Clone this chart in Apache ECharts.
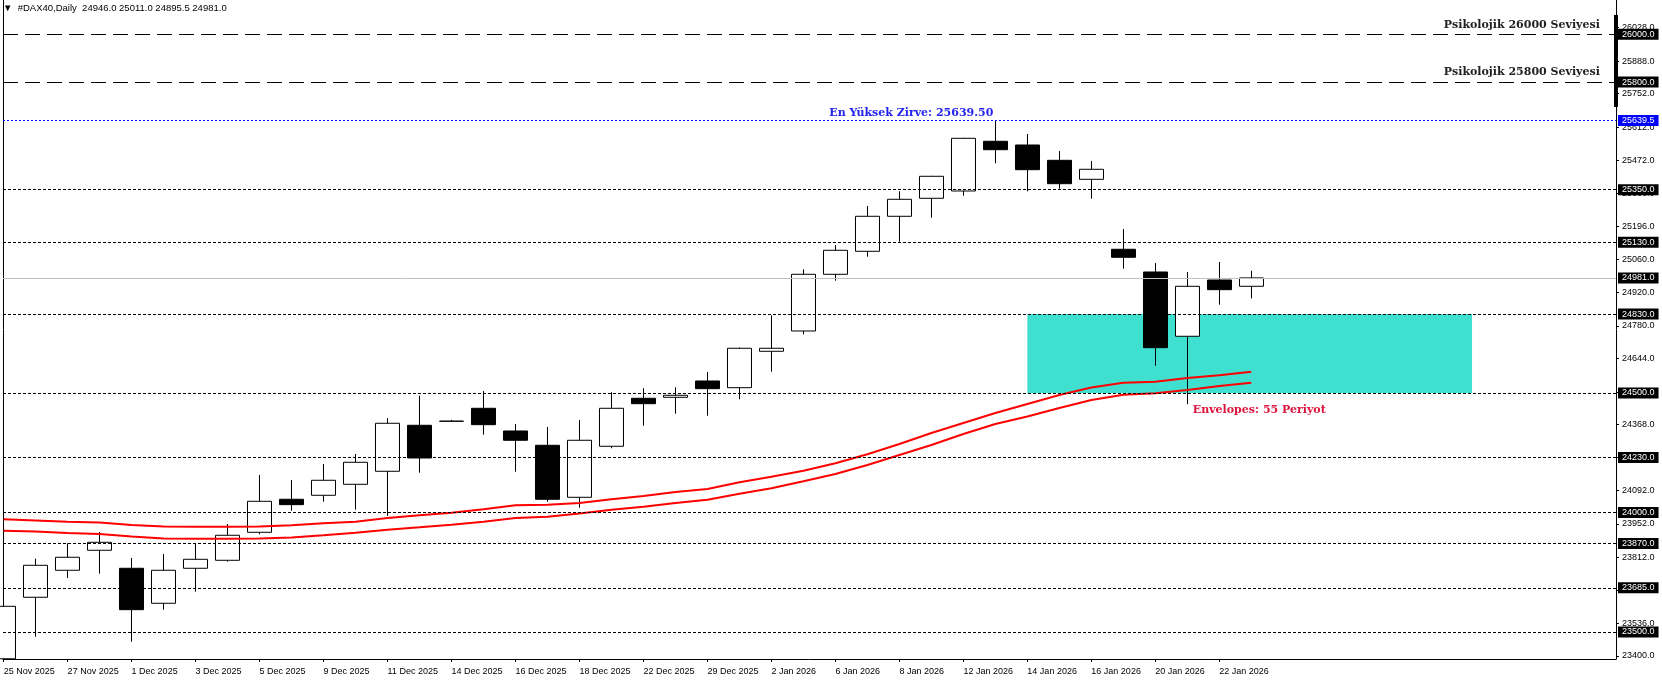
<!DOCTYPE html>
<html>
<head>
<meta charset="utf-8">
<title>#DAX40 Daily</title>
<script src="https://cdn.jsdelivr.net/npm/echarts@6/dist/echarts.min.js"></script>
<style>
    html, body { margin: 0; padding: 0; background: #fff; }
    #chart { width: 1662px; height: 680px; }
</style>
</head>
<body>
<div id="chart"></div>
<script>
// daily bars
var dates = ['25 Nov 2025', '26 Nov 2025', '27 Nov 2025', '28 Nov 2025', '1 Dec 2025', '2 Dec 2025', '3 Dec 2025', '4 Dec 2025',
    '5 Dec 2025', '8 Dec 2025', '9 Dec 2025', '10 Dec 2025', '11 Dec 2025', '12 Dec 2025', '14 Dec 2025', '15 Dec 2025',
    '16 Dec 2025', '17 Dec 2025', '18 Dec 2025', '19 Dec 2025', '22 Dec 2025', '23 Dec 2025', '29 Dec 2025', '30 Dec 2025',
    '2 Jan 2026', '5 Jan 2026', '6 Jan 2026', '7 Jan 2026', '8 Jan 2026', '9 Jan 2026', '12 Jan 2026', '13 Jan 2026',
    '14 Jan 2026', '15 Jan 2026', '16 Jan 2026', '19 Jan 2026', '20 Jan 2026', '21 Jan 2026', '22 Jan 2026', '23 Jan 2026'];

// first bar opens below the visible scale, so its open/low sit at the bottom edge
var open = [23388, 23645.2, 23758.1, 23841.8, 23766.5, 23620.1, 23766.5, 23799.9, 23917.0, 24055.1,
    24071.8, 24117.8, 24172.2, 24364.6, 24381.3, 24435.7, 24340.8, 24280.9, 24063.4, 24276.8,
    24477.5, 24481.7, 24549.9, 24521.9, 24674.1, 24759.0, 24996.2, 25092.4, 25238.8, 25314.1,
    25344.6, 25552.5, 25537.0, 25473.0, 25393.5, 25100.8, 25005.8, 24736.9, 24972.3, 24946.0];
var close = [23607.5, 23779.0, 23812.5, 23875.2, 23593.3, 23758.1, 23804.1, 23904.5, 24046.7, 24032.6,
    24134.6, 24209.8, 24373.0, 24227.8, 24382.0, 24367.1, 24301.9, 24055.1, 24301.9, 24435.7,
    24454.9, 24490.1, 24517.7, 24686.7, 24686.7, 24996.2, 25096.6, 25238.8, 25309.9, 25406.1,
    25565.0, 25517.3, 25433.7, 25375.1, 25435.4, 25067.3, 24689.2, 24946.0, 24931.8, 24981.0];
var low = [23387.5, 23480.4, 23725.9, 23743.9, 23459.5, 23593.3, 23668.6, 23794.1, 23908.7, 24007.4,
    24045.0, 24011.6, 23985.2, 24166.3, 24379.0, 24325.3, 24170.5, 24045.0, 24019.9, 24268.4,
    24362.9, 24413.1, 24404.8, 24473.3, 24588.8, 24745.2, 24969.4, 25069.8, 25132.5, 25232.9,
    25324.9, 25460.5, 25343.3, 25354.2, 25312.4, 25019.6, 24613.9, 24452.4, 24869.0, 24895.5];
var high = [23620.0, 23806.6, 23871.0, 23918.3, 23809.6, 23826.3, 23871.0, 23951.8, 24156.7, 24135.8,
    24202.7, 24244.5, 24395.1, 24488.4, 24386.8, 24508.1, 24370.0, 24357.5, 24386.8, 24502.6,
    24519.4, 24523.6, 24587.5, 24690.0, 24824.7, 25017.1, 25118.7, 25281.9, 25343.3, 25408.0,
    25567.0, 25639.5, 25583.0, 25511.9, 25470.1, 25185.7, 25043.5, 25005.8, 25047.6, 25011.0];

// Envelopes 55
var envUpper = [23971.4, 23966.4, 23961.4, 23958.0, 23947.6, 23941.3, 23940.5, 23940.5, 23941.3, 23946.3,
    23954.7, 23961.4, 23976.9, 23988.1, 23999.0, 24013.3, 24030.0, 24032.5, 24039.6, 24055.1,
    24068.9, 24085.6, 24098.2, 24126.2, 24149.6, 24174.7, 24205.7, 24243.3, 24286.4, 24332.4,
    24374.2, 24416.0, 24453.7, 24491.3, 24522.7, 24542.8, 24547.0, 24562.4, 24573.7, 24588.8];
var envLower = [23923.7, 23920.4, 23914.1, 23909.9, 23899.5, 23891.1, 23890.3, 23890.3, 23891.1, 23895.3,
    23904.5, 23915.4, 23927.9, 23938.0, 23948.9, 23961.4, 23976.9, 23982.3, 23995.7, 24011.6,
    24024.1, 24039.6, 24053.4, 24078.5, 24101.1, 24130.4, 24160.9, 24198.5, 24240.4, 24282.2,
    24328.2, 24370.0, 24401.4, 24437.0, 24470.4, 24492.6, 24498.4, 24512.2, 24529.0, 24542.8];

// price scale
var yTicks = [23400, 23536, 23676, 23812, 23952, 24092, 24232, 24368, 24504, 24644,
    24780, 24920, 25060, 25196, 25336, 25472, 25612, 25752, 25888, 26028];
var yMin = 23387, yMax = 26143.5;
var xMin = -0.02, xMax = 50.4;

// drawn levels
var psychLevels = [26000, 25800];
var psychNotes = ['Psikolojik 26000 Seviyesi', 'Psikolojik 25800 Seviyesi'];
var psychNoteEnd = 50.02;
var dotLevels = [25350, 25130, 24830, 24500, 24230, 24000, 23870, 23685, 23500];
var peak = 25639.5, peakBar = 31, peakNote = 'En Yüksek Zirve: 25639.50';
var bid = 24981;
var zone = [32, 24830, 45.9, 24500];
var envNote = 'Envelopes: 55 Periyot', envNoteAt = [37, 24428.6];

var axisFont = 'Liberation Sans';
var noteFont = 'DejaVu Serif';

var xTicks = dates.map(function (d, i) { return i; }).filter(function (i) { return i % 2 === 0; });
var candles = dates.map(function (d, i) { return [i, open[i], close[i], low[i], high[i]]; });

function priceBox(bg) {
    return {
        show: true, position: 'end', distance: 2,
        formatter: function (p) { return Number(p.value).toFixed(1); },
        backgroundColor: bg, color: '#fff',
        fontFamily: axisFont, fontSize: 9, lineHeight: 10,
        padding: [1, 4, 0, 4]
    };
}

function noteSegment(y, xEnd, text, color, dist) {
    return [
        { coord: [0, y], lineStyle: { color: 'rgba(0,0,0,0)' },
          label: { show: true, position: 'insideEndTop', formatter: text, distance: dist,
              color: color, fontFamily: noteFont, fontWeight: 'bold', fontSize: 11 } },
        { coord: [xEnd, y] }
    ];
}

var lines = [];
psychLevels.forEach(function (v, k) {
    lines.push({ yAxis: v, lineStyle: { color: '#000', type: [15, 7], width: 1 }, label: priceBox('#000') });
    lines.push(noteSegment(v, psychNoteEnd, psychNotes[k], '#222', 4));
});
lines.push({ yAxis: peak, lineStyle: { color: '#0000ff', type: [2, 2], width: 1 }, label: priceBox('#0000ff') });
lines.push(noteSegment(peak, peakBar, peakNote, '#2323f0', 2));
dotLevels.forEach(function (v) {
    lines.push({ yAxis: v, lineStyle: { color: '#000', type: [3, 2], width: 1 }, label: priceBox('#000') });
});
lines.push({ yAxis: bid, lineStyle: { color: '#c0c0c0', type: 'solid', width: 1 }, label: priceBox('#000') });

var chart = echarts.init(document.getElementById('chart'));
chart.setOption({
    animation: false,
    backgroundColor: '#fff',
    title: {
        text: '\u25BC  #DAX40,Daily  ' + [open[39], high[39], low[39], close[39]].map(function (v) { return v.toFixed(1); }).join(' '),
        left: 3, top: 3, padding: 0,
        textStyle: { fontFamily: axisFont, fontSize: 9.5, fontWeight: 'normal', color: '#000' }
    },
    grid: { left: 3, right: 46, top: 0, bottom: 21 },
    xAxis: {
        type: 'value', min: xMin, max: xMax,
        axisLine: { show: true, onZero: false, lineStyle: { color: '#000', width: 1 } },
        axisTick: { show: true, length: 3, customValues: xTicks, lineStyle: { color: '#000' } },
        axisLabel: {
            customValues: xTicks, formatter: function (v) { return dates[v]; },
            align: 'left', margin: 8, fontFamily: axisFont, fontSize: 9, color: '#000'
        },
        splitLine: { show: false }
    },
    yAxis: [{
        type: 'value', position: 'right', min: yMin, max: yMax,
        axisLine: { show: true, onZero: false, lineStyle: { color: '#000', width: 1 } },
        axisTick: { show: true, length: 3, customValues: yTicks, lineStyle: { color: '#000' } },
        axisLabel: {
            customValues: yTicks, formatter: function (v) { return v.toFixed(1); },
            margin: 6, fontFamily: axisFont, fontSize: 9, color: '#000'
        },
        splitLine: { show: false }
    }, {
        type: 'value', position: 'left', min: yMin, max: yMax,
        axisLine: { show: true, onZero: false, lineStyle: { color: '#000', width: 1 } },
        axisTick: { show: false }, axisLabel: { show: false }, splitLine: { show: false }
    }],
    graphic: [{
        type: 'rect', shape: { x: 1614, y: 15, width: 4, height: 92 },
        style: { fill: '#000' }, z: 50
    }],
    series: [
        {
            name: 'levels', type: 'line', data: [], z: 1, silent: true,
            markArea: {
                silent: true,
                itemStyle: { color: '#40e0d0', opacity: 1 },
                data: [[{ coord: [zone[0], zone[1]] }, { coord: [zone[2], zone[3]] }]]
            },
            markLine: { silent: true, symbol: ['none', 'none'], data: lines }
        },
        {
            name: 'DAX40', type: 'candlestick', data: candles, z: 3,
            barWidth: 24,
            itemStyle: {
                color: '#ffffff', color0: '#000000',
                borderColor: '#000000', borderColor0: '#000000', borderWidth: 1
            }
        },
        {
            name: 'Env Upper', type: 'line', z: 4, symbol: 'none',
            data: envUpper.map(function (v, i) { return [i, v]; }),
            lineStyle: { color: '#ff0000', width: 2 },
            markPoint: {
                silent: true, symbol: 'circle', symbolSize: 1,
                itemStyle: { color: 'rgba(0,0,0,0)' },
                label: { show: true, position: 'right', distance: 5, formatter: envNote,
                    color: '#dc143c', fontFamily: noteFont, fontWeight: 'bold', fontSize: 11 },
                data: [{ coord: envNoteAt }]
            }
        },
        {
            name: 'Env Lower', type: 'line', z: 4, symbol: 'none',
            data: envLower.map(function (v, i) { return [i, v]; }),
            lineStyle: { color: '#ff0000', width: 2 }
        }
    ]
});
</script>
</body>
</html>
